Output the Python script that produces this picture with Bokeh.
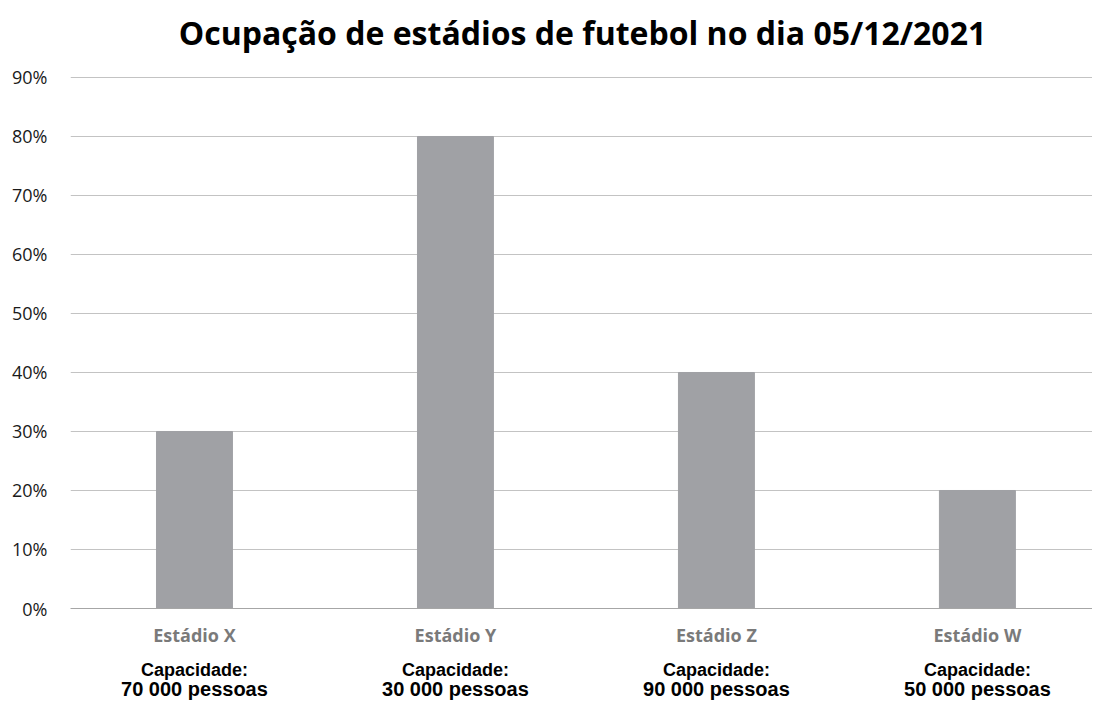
from bokeh.plotting import figure
from bokeh.models import Range1d, LinearAxis, FixedTicker, NumeralTickFormatter, ColumnDataSource, Label
from bokeh.embed import file_html
from bokeh.resources import INLINE

stadiums = ["Estádio X", "Estádio Y", "Estádio Z", "Estádio W"]
capacities = ["70 000", "30 000", "90 000", "50 000"]
occupancy = [0.30, 0.80, 0.40, 0.20]
y_ticks = [0.0, 0.1, 0.2, 0.3, 0.4, 0.5, 0.6, 0.7, 0.8, 0.9]
title_text = "Ocupação de estádios de futebol no dia 05/12/2021"

xpos = list(range(len(stadiums)))
src = ColumnDataSource(dict(x=xpos, top=occupancy))

# frame spans the full canvas height above the axis area; extra headroom holds the title
p = figure(width=1092, height=702, output_backend="svg", toolbar_location=None,
           x_range=Range1d(-0.475, 3.441), y_range=Range1d(0, 1.0305),
           min_border_left=70, min_border_right=0, min_border_top=0, min_border_bottom=94,
           x_axis_location=None)
p.outline_line_color = None
p.background_fill_color = "white"
p.border_fill_color = "white"

title = Label(x=512, y=576, x_units="screen", y_units="screen", text=title_text,
              text_align="center", text_baseline="alphabetic",
              text_font="Open Sans", text_font_style="bold", text_font_size="32px",
              text_color="#000000")
p.add_layout(title)

p.vbar(x="x", top="top", bottom=0, width=0.291, source=src, color="#a0a1a5")

# y axis
yax = p.yaxis[0]
yax.ticker = FixedTicker(ticks=y_ticks)
yax.formatter = NumeralTickFormatter(format="0%")
yax.axis_line_color = None
yax.major_tick_line_color = None
yax.minor_tick_line_color = None
yax.major_tick_out = 0
yax.major_label_standoff = 23
yax.major_label_text_font = "Open Sans"
yax.major_label_text_font_size = "18px"
yax.major_label_text_color = "#1a1a1a"

p.xgrid.grid_line_color = None
p.ygrid.ticker = FixedTicker(ticks=y_ticks)
p.ygrid.grid_line_color = "#c3c3c3"
p.ygrid.grid_line_width = 1

def below_axis(labels, font, size, color, standoff):
    ax = LinearAxis(ticker=FixedTicker(ticks=xpos),
                    major_label_overrides={i: s for i, s in enumerate(labels)})
    ax.axis_line_color = None
    ax.major_tick_line_color = None
    ax.minor_tick_line_color = None
    ax.major_tick_out = 0
    ax.major_label_standoff = standoff
    ax.major_label_text_font = font
    ax.major_label_text_font_style = "bold"
    ax.major_label_text_font_size = size
    ax.major_label_text_color = color
    p.add_layout(ax, "below")
    return ax

ax1 = below_axis(stadiums, "Open Sans", "18px", "#7a7a7a", 14)
ax1.axis_line_color = "#a6a6a6"
below_axis(["Capacidade:"] * len(capacities), "Liberation Sans", "18px", "#000000", 10)
below_axis([c + " pessoas" for c in capacities], "Liberation Sans", "20px", "#000000", -5)

open("out.html", "w").write(file_html(p, INLINE))
